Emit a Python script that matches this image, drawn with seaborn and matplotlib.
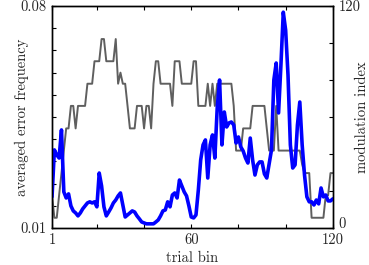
import numpy as np
import pandas as pd
import matplotlib
matplotlib.use("Agg")
import matplotlib.pyplot as plt
import seaborn as sns

# trial bins
trial_bin = list(range(1, 121))

# averaged error frequency (left axis, gray step-like line)
error_freq = [
    0.0203, 0.0132, 0.0132, 0.0203, 0.0273, 0.0344, 0.0414, 0.0414, 0.0485, 0.0485,
    0.0414, 0.0485, 0.0485, 0.0485, 0.0485, 0.0555, 0.0555, 0.0555, 0.0626, 0.0626,
    0.0626, 0.0696, 0.0696, 0.0626, 0.0626, 0.0626, 0.0626, 0.0696, 0.0555, 0.0590,
    0.0555, 0.0555, 0.0485, 0.0414, 0.0414, 0.0414, 0.0485, 0.0485, 0.0485, 0.0414,
    0.0485, 0.0485, 0.0414, 0.0555, 0.0626, 0.0626, 0.0555, 0.0555, 0.0555, 0.0555,
    0.0555, 0.0485, 0.0626, 0.0626, 0.0626, 0.0555, 0.0555, 0.0555, 0.0555, 0.0555,
    0.0626, 0.0626, 0.0485, 0.0485, 0.0485, 0.0485, 0.0555, 0.0485, 0.0555, 0.0485,
    0.0555, 0.0555, 0.0555, 0.0555, 0.0555, 0.0555, 0.0555, 0.0485, 0.0344, 0.0344,
    0.0344, 0.0414, 0.0414, 0.0414, 0.0414, 0.0485, 0.0485, 0.0485, 0.0485, 0.0485,
    0.0485, 0.0414, 0.0344, 0.0344, 0.0344, 0.0485, 0.0344, 0.0344, 0.0344, 0.0344,
    0.0344, 0.0344, 0.0344, 0.0344, 0.0344, 0.0344, 0.0300, 0.0273, 0.0273, 0.0273,
    0.0132, 0.0132, 0.0132, 0.0132, 0.0132, 0.0132, 0.0203, 0.0203, 0.0273, 0.0273,
]

# modulation index (right axis, blue line)
modulation = [
    16.8, 42.2, 39.5, 37.8, 53.0, 19.5, 16.2, 18.4, 11.9, 9.2,
    8.1, 6.5, 8.1, 10.3, 11.9, 13.5, 14.1, 13.5, 14.1, 11.4,
    29.7, 22.7, 11.4, 6.5, 8.6, 10.8, 13.5, 15.1, 17.3, 18.9,
    12.4, 5.9, 7.0, 8.1, 9.2, 8.6, 6.5, 4.9, 3.2, 2.7,
    2.2, 2.2, 2.2, 2.2, 3.2, 4.3, 6.5, 9.2, 9.7, 14.1,
    11.4, 17.8, 18.9, 16.2, 25.9, 22.7, 19.5, 17.3, 11.9, 5.9,
    5.4, 7.0, 20.5, 36.8, 44.9, 47.6, 27.0, 44.9, 50.3, 37.8,
    64.9, 80.0, 44.9, 62.7, 54.6, 56.8, 57.3, 55.7, 45.9, 49.2,
    43.8, 41.6, 37.8, 35.1, 48.6, 36.8, 28.6, 34.1, 35.7, 35.7,
    29.2, 27.0, 34.6, 42.2, 80.0, 89.2, 62.2, 88.1, 116.7, 107.0,
    82.7, 44.9, 32.4, 34.1, 55.7, 68.1, 44.9, 28.6, 16.8, 14.1,
    14.1, 12.4, 15.1, 13.0, 21.6, 16.8, 17.8, 14.6, 14.6, 15.7,
]

x_ticks = [1, 20, 40, 60, 80, 100, 120]
x_ticklabels = ["1", "", "", "60", "", "", "120"]
left_ticklabels = ["0.01"] + [""] * 9 + ["0.08"]
right_ticks = [0, 20, 40, 60, 80, 100, 120]
right_ticklabels = ["0", "", "", "", "", "", "120"]

df = pd.DataFrame({"trial": trial_bin, "err": error_freq, "mod": modulation})

sns.set_style("white")
plt.rcParams["font.family"] = ["serif"]
plt.rcParams["font.serif"] = ["cmr10", "DejaVu Serif"]
plt.rcParams["mathtext.fontset"] = "cm"
plt.rcParams["axes.unicode_minus"] = False

fig = plt.figure(figsize=(3.69, 2.65), dpi=100)
ax = fig.add_axes([0.141, 0.140, 0.761, 0.837])
sns.lineplot(data=df, x="trial", y="err", ax=ax, color="#5f5f5f", linewidth=1.4)
ax2 = ax.twinx()
sns.lineplot(data=df, x="trial", y="mod", ax=ax2, color="#0000ff", linewidth=2.6)

ax.set_xlim(1, 120)
ax.set_ylim(0.01, 0.08)
ax2.set_ylim(0, 120)

ax.set_xticks(x_ticks)
ax.set_xticklabels(x_ticklabels)
ax.set_yticks(np.linspace(0.01, 0.08, 11))
ax.set_yticklabels(left_ticklabels)
ax2.set_yticks(right_ticks)
ax2.set_yticklabels(right_ticklabels)

fs = 10.5
ax.set_xlabel("trial bin", fontsize=fs, labelpad=3)
ax.set_ylabel("averaged error frequency", fontsize=fs, labelpad=-6)
ax2.set_ylabel("modulation index", fontsize=fs, labelpad=-4)

ax.tick_params(axis="x", direction="in", top=True, bottom=True, length=3,
               width=0.8, labelsize=fs, pad=4, color="black")
ax.tick_params(axis="y", direction="in", left=True, right=False, length=3,
               width=0.8, labelsize=fs, pad=4, color="black")
ax2.tick_params(axis="y", direction="in", right=True, left=False, length=3,
                width=0.8, labelsize=fs, pad=4, color="black")

# lift the right-axis "0" slightly so it does not collide with "120" below
ax2.get_yticklabels()[0].set_verticalalignment("baseline")

for a in (ax, ax2):
    for s in a.spines.values():
        s.set_visible(True)
        s.set_color("black")
        s.set_linewidth(1.0)

fig.savefig("out.png", dpi=100)
